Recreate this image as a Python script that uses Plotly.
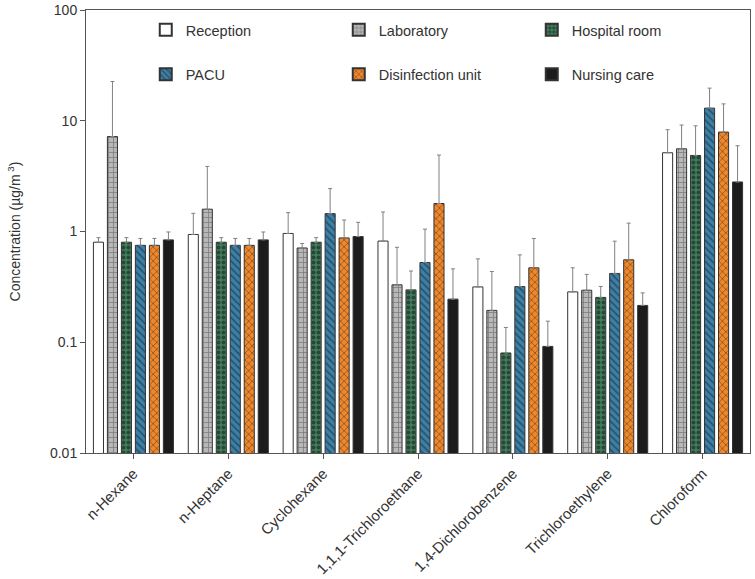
import plotly.graph_objects as go

categories = ["n-Hexane", "n-Heptane", "Cyclohexane", "1,1,1-Trichloroethane",
              "1,4-Dichlorobenzene", "Trichloroethylene", "Chloroform"]

reception = [0.80, 0.94, 0.96, 0.82, 0.316, 0.285, 5.14]
reception_hi = [0.88, 1.46, 1.48, 1.50, 0.566, 0.47, 8.3]
laboratory = [7.2, 1.59, 0.71, 0.33, 0.194, 0.295, 5.58]
laboratory_hi = [22.6, 3.87, 0.78, 0.72, 0.435, 0.41, 9.15]
hospital_room = [0.80, 0.80, 0.80, 0.297, 0.080, 0.254, 4.86]
hospital_room_hi = [0.88, 0.88, 0.88, 0.44, 0.136, 0.319, 9.0]
pacu = [0.75, 0.75, 1.45, 0.525, 0.318, 0.418, 13.0]
pacu_hi = [0.865, 0.865, 2.44, 1.05, 0.615, 0.818, 19.7]
disinfection = [0.75, 0.75, 0.875, 1.79, 0.47, 0.555, 7.9]
disinfection_hi = [0.865, 0.865, 1.27, 4.9, 0.865, 1.19, 14.2]
nursing = [0.84, 0.84, 0.90, 0.245, 0.0917, 0.215, 2.80]
nursing_hi = [0.99, 0.99, 1.21, 0.46, 0.155, 0.279, 5.95]

series = [
    ("Reception", reception, reception_hi, "#ffffff", "", "#ffffff", 5, 0.3, "legend"),
    ("Laboratory", laboratory, laboratory_hi, "#b8b8b8", "+", "#444444", 5, 0.3, "legend"),
    ("Hospital room", hospital_room, hospital_room_hi, "#3f7d5c", ".", "#111111", 5, 0.5, "legend"),
    ("PACU", pacu, pacu_hi, "#3b80a8", "\\", "#1a1a1a", 5, 0.3, "legend2"),
    ("Disinfection unit", disinfection, disinfection_hi, "#f0872a", "x", "#222222", 5, 0.3, "legend2"),
    ("Nursing care", nursing, nursing_hi, "#1c1c1c", "", "#1c1c1c", 5, 0.3, "legend2"),
]

fig = go.Figure()
for name, vals, hi, color, shape, fg, psize, psol, leg in series:
    fig.add_trace(go.Bar(
        name=name, x=categories, y=vals,
        marker=dict(color=color, line=dict(color="#333333", width=1),
                    pattern=dict(shape=shape, fgcolor=fg, bgcolor=color,
                                 size=psize, solidity=psol, fillmode="overlay")),
        error_y=dict(type="data", symmetric=False,
                     array=[h - v for h, v in zip(hi, vals)],
                     arrayminus=[0] * len(vals),
                     color="#808080", thickness=1, width=2),
        legend=leg,
    ))

font_family = "Liberation Sans, Arial, sans-serif"
leg_common = dict(orientation="h", xanchor="left", yanchor="middle",
                  entrywidth=148, entrywidthmode="pixels",
                  bgcolor="rgba(0,0,0,0)", font=dict(size=14.5, color="#333333"),
                  itemsizing="constant")

fig.update_layout(
    width=755, height=579,
    margin=dict(l=86, r=5, t=10, b=126),
    paper_bgcolor="white", plot_bgcolor="white",
    font=dict(family=font_family, size=14, color="#333333"),
    barmode="group", bargap=0.115, bargroupgap=0.28,
    showlegend=True,
    legend=dict(x=0.09, y=0.955, **leg_common),
    legend2=dict(x=0.09, y=0.855, **leg_common),
)
fig.update_yaxes(type="log", range=[-2, 2],
                 tickvals=[0.01, 0.1, 1, 10, 100],
                 ticktext=["0.01", "0.1", "1", "10", "100"],
                 ticks="outside", ticklen=5, tickcolor="#555555",
                 showline=True, linecolor="#555555", linewidth=1, mirror=True,
                 showgrid=False, zeroline=False, ticklabeloverflow="allow",
                 automargin=False,
                 tickfont=dict(size=14),
                 title=dict(text="Concentration (µg/m<sup> 3</sup>)", font=dict(size=14), standoff=26))
fig.update_xaxes(range=[-0.5, 6.5], tickangle=-45,
                 ticks="outside", ticklen=5, tickcolor="#555555",
                 showline=True, linecolor="#555555", linewidth=1, mirror=True,
                 showgrid=False, automargin=False, tickfont=dict(size=15))

fig.write_html("out.html", config={"displayModeBar": False},
               post_script="document.body.style.margin='0';document.body.style.overflow='hidden';")
